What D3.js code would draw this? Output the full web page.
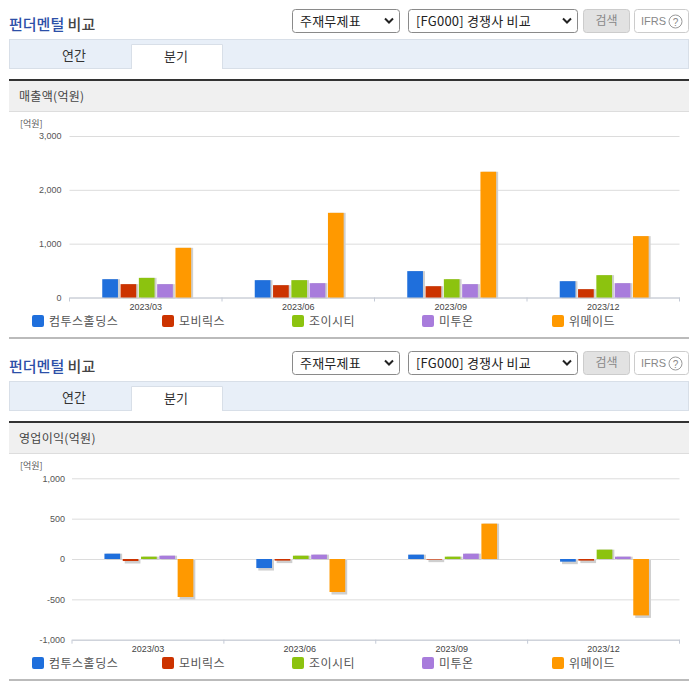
<!DOCTYPE html>
<html>
<head>
<meta charset="utf-8">
<script src="https://cdn.jsdelivr.net/npm/d3@7"></script>
<style>
  html, body { margin: 0; padding: 0; background: #fff; }
  svg { display: block; }
  text { font-family: "Noto Sans CJK KR", "Liberation Sans", sans-serif; }
  .num { font-family: "Liberation Sans", Arial, sans-serif; }
</style>
</head>
<body>
<svg id="chart" width="696" height="684"></svg>
<script>
const quarters = ['2023/03', '2023/06', '2023/09', '2023/12'];
const companies = ['컴투스홀딩스', '모비릭스', '조이시티', '미투온', '위메이드'];
const colors = ['#1f6fdc', '#cc3300', '#8cc30f', '#a87cdc', '#ff9900'];

// one row per company, one value per quarter
const revenue = [
  [340, 322, 490, 303],
  [248, 229, 210, 155],
  [365, 322, 340, 415],
  [248, 266, 248, 266],
  [923, 1573, 2336, 1140],
];
const profit = [
  [66, -112, 54, -33],
  [-25, -20, -8, -20],
  [29, 41, 29, 116],
  [41, 54, 66, 29],
  [-471, -409, 438, -699],
];

const revenueTicks = [0, 1000, 2000, 3000];
const profitTicks = [-1000, -500, 0, 500, 1000];

const svg = d3.select('#chart');

const drawSelect = (g, x, w, label) => {
  g.append('rect').attr('x', x + 0.5).attr('y', 9.5).attr('width', w).attr('height', 23)
    .attr('rx', 3).attr('fill', '#fff').attr('stroke', '#8a8a8a');
  g.append('text').attr('x', x + 8).attr('y', 25.5).attr('font-size', 13)
    .attr('letter-spacing', 0.2).attr('fill', '#222').text(label);
  g.append('path').attr('d', `M${x + w - 14},18.5 l4,4 l4,-4`)
    .attr('fill', 'none').attr('stroke', '#222').attr('stroke-width', 2);
};

const drawHeader = (g, label) => {
  const title = g.append('text').attr('x', 9).attr('y', 29.5)
    .attr('font-size', 15).attr('font-weight', 500);
  title.append('tspan').attr('fill', '#2c4fa8').text('펀더멘털');
  title.append('tspan').attr('fill', '#444').text(' 비교');

  drawSelect(g, 292, 107, '주재무제표');
  drawSelect(g, 408, 169, '[FG000] 경쟁사 비교');

  g.append('rect').attr('x', 583.5).attr('y', 9.5).attr('width', 46).attr('height', 23)
    .attr('rx', 3).attr('fill', '#e2e2e2').attr('stroke', '#ccc');
  g.append('text').attr('x', 606.5).attr('y', 25).attr('text-anchor', 'middle')
    .attr('font-size', 12).attr('fill', '#888').text('검색');

  g.append('rect').attr('x', 634.5).attr('y', 9.5).attr('width', 54).attr('height', 23)
    .attr('rx', 3).attr('fill', '#fff').attr('stroke', '#ccc');
  g.append('text').attr('class', 'num').attr('x', 641).attr('y', 25)
    .attr('font-size', 11).attr('fill', '#888').text('IFRS');
  g.append('circle').attr('cx', 675.5).attr('cy', 21.5).attr('r', 6.5)
    .attr('fill', 'none').attr('stroke', '#999');
  g.append('text').attr('class', 'num').attr('x', 675.5).attr('y', 25.5).attr('text-anchor', 'middle')
    .attr('font-size', 10).attr('fill', '#888').text('?');

  // tabs
  g.append('rect').attr('x', 9.5).attr('y', 39.5).attr('width', 679).attr('height', 29)
    .attr('fill', '#e8eff8').attr('stroke', '#d8dfe8');
  g.append('path').attr('d', 'M131.5,69 V44.5 H222.5 V69')
    .attr('fill', '#fff').attr('stroke', '#d8dfe8');
  g.append('text').attr('x', 74).attr('y', 60).attr('text-anchor', 'middle')
    .attr('font-size', 13).attr('fill', '#333').text('연간');
  g.append('text').attr('x', 176).attr('y', 61).attr('text-anchor', 'middle')
    .attr('font-size', 13).attr('fill', '#333').text('분기');

  // section band
  g.append('rect').attr('x', 9).attr('y', 81).attr('width', 680).attr('height', 30).attr('fill', '#f0f0f0');
  g.append('rect').attr('x', 9).attr('y', 111).attr('width', 680).attr('height', 1).attr('fill', '#ddd');
  g.append('rect').attr('x', 9).attr('y', 79).attr('width', 680).attr('height', 2).attr('fill', '#333');
  g.append('text').attr('x', 19).attr('y', 100.5).attr('font-size', 12)
    .attr('letter-spacing', 0.3).attr('fill', '#444').text(label);
};

const drawChart = (g, series, ticks, opts) => {
  const y = d3.scaleLinear().domain(d3.extent(ticks)).range(opts.yRange);
  const x = d3.scaleBand().domain(quarters).range(opts.xRange);
  const inner = d3.scaleBand().domain(companies).range([0, 91.5]);
  const fmt = d3.format(',');

  g.append('text').attr('x', 20).attr('y', opts.yRange[1] - 9).attr('font-size', 9)
    .attr('fill', '#555').text('[억원]');

  const yAxis = g.append('g')
    .attr('transform', `translate(${opts.xRange[0]},0)`)
    .call(d3.axisLeft(y).tickValues(ticks).tickFormat(d => fmt(d).replace('−', '-'))
      .tickSize(-(opts.xRange[1] - opts.xRange[0])).tickPadding(opts.labelGap));
  yAxis.select('.domain').remove();
  yAxis.selectAll('line').attr('stroke', '#dcdcdc');
  yAxis.selectAll('text').attr('class', 'num').attr('font-size', 9).attr('fill', '#555');

  const xAxis = g.append('g')
    .attr('transform', `translate(0,${opts.yRange[0]})`)
    .call(d3.axisBottom(x).tickSize(0).tickPadding(6));
  xAxis.select('.domain').attr('stroke', '#c4cad6');
  xAxis.selectAll('text').attr('class', 'num').attr('font-size', 9).attr('fill', '#444');

  // ticks sit on the band edges, not the centers
  g.selectAll('.edge').data(d3.range(quarters.length + 1)).enter().append('line')
    .attr('class', 'edge')
    .attr('x1', d => opts.xRange[0] + d * x.step()).attr('x2', d => opts.xRange[0] + d * x.step())
    .attr('y1', opts.yRange[0]).attr('y2', opts.yRange[0] + 4)
    .attr('stroke', '#c4cad6');

  const barW = 15.7;
  const rows = series.flatMap((vals, i) => vals.map((v, q) => ({
    name: companies[i], color: colors[i], quarter: quarters[q], value: v,
  })));
  const barX = d => x(d.quarter) + x.step() / 2 - 43.5 + inner(d.name);

  g.selectAll('.shadow').data(rows).enter().append('rect')
    .attr('class', 'shadow')
    .attr('x', d => barX(d) + 2)
    .attr('y', d => Math.min(y(d.value), y(0)) + (d.value < 0 ? 1 : 0))
    .attr('width', barW)
    .attr('height', d => Math.abs(y(d.value) - y(0)) + (d.value < 0 ? 1.5 : 1))
    .attr('fill', '#cfcfcf');

  g.selectAll('.bar').data(rows).enter().append('rect')
    .attr('class', 'bar')
    .attr('x', barX)
    .attr('y', d => Math.min(y(d.value), y(0)))
    .attr('width', barW)
    .attr('height', d => Math.abs(y(d.value) - y(0)))
    .attr('fill', d => d.color);

  // legend
  const legend = g.selectAll('.legend').data(companies).enter().append('g')
    .attr('class', 'legend')
    .attr('transform', (d, i) => `translate(${32 + i * 130},${opts.legendY})`);
  legend.append('rect').attr('width', 12).attr('height', 12).attr('rx', 2)
    .attr('fill', (d, i) => colors[i]);
  legend.append('text').attr('x', 17).attr('y', 10.5).attr('font-size', 12)
    .attr('letter-spacing', 0.5).attr('fill', '#555').text(d => d);

  g.append('rect').attr('x', 9).attr('y', opts.legendY + 22).attr('width', 680).attr('height', 2)
    .attr('fill', '#bbb');
};

const upper = svg.append('g');
drawHeader(upper, '매출액(억원)');
drawChart(upper, revenue, revenueTicks, {
  xRange: [69.5, 679.5], yRange: [297.5, 136], labelGap: 8, legendY: 315,
});

const lower = svg.append('g').attr('transform', 'translate(0,342)');
drawHeader(lower, '영업이익(억원)');
drawChart(lower, profit, profitTicks, {
  xRange: [72, 679.5], yRange: [297.7, 136.3], labelGap: 7, legendY: 315,
});
</script>
</body>
</html>
